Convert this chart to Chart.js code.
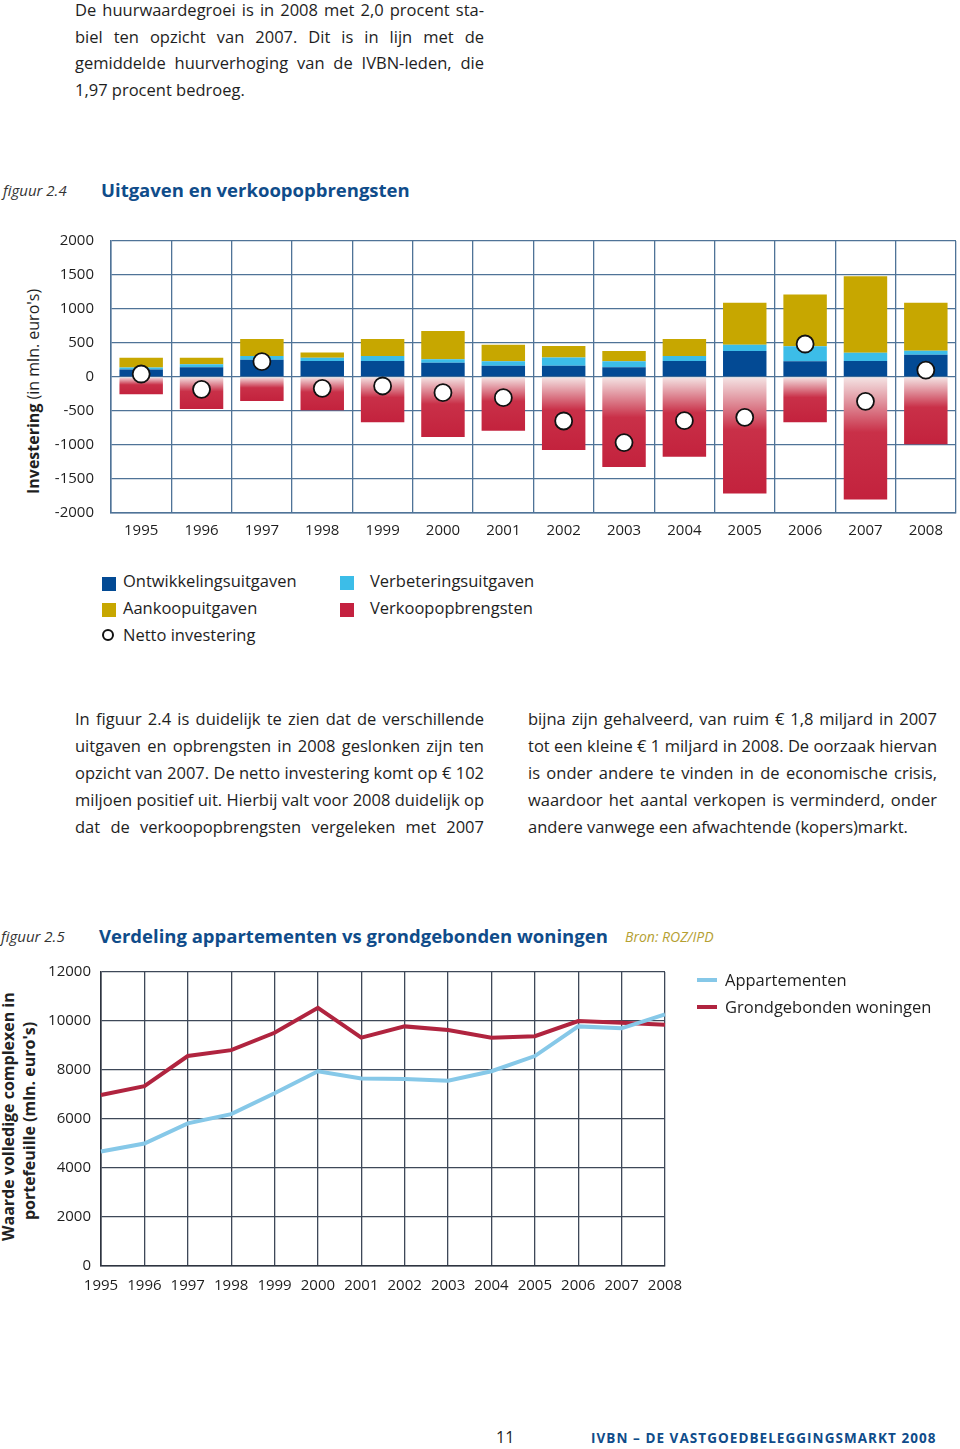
<!DOCTYPE html>
<html>
<head>
<meta charset="utf-8">
<script src="https://cdn.jsdelivr.net/npm/chart.js@4/dist/chart.umd.min.js"></script>
<style>
  body { margin: 0; width: 960px; height: 1449px; overflow: hidden; background: #fff;
         font-family: "Open Sans", sans-serif; color: #1e1e1e; position: relative; }
  .abs { position: absolute; }
  .line { position: absolute; width: 409px; font-size: 16.5px; line-height: 27px; height: 27px;
          text-align: justify; text-align-last: justify; white-space: nowrap; }
  .line.last { text-align-last: left; }
  .fig { font-style: italic; font-size: 15px; color: #333; }
  .title { font-weight: bold; color: #0f4c8a; font-size: 18.5px; }
  .leg { position: absolute; font-size: 16.5px; line-height: 20px; }
  .sq { position: absolute; width: 14px; height: 14px; }
  .rot { position: absolute; transform: rotate(-90deg); text-align: center; white-space: nowrap; }
</style>
</head>
<body>
<div class="line" style="left:75px;top:-4px">De huurwaardegroei is in 2008 met 2,0 procent sta-</div>
<div class="line" style="left:75px;top:23px">biel ten opzicht van 2007. Dit is in lijn met de</div>
<div class="line" style="left:75px;top:49px">gemiddelde huurverhoging van de IVBN-leden, die</div>
<div class="line last" style="left:75px;top:76px">1,97 procent bedroeg.</div>

<div class="abs fig" style="left:3px;top:180px">figuur 2.4</div>
<div class="abs title" style="left:101px;top:177px">Uitgaven en verkoopopbrengsten</div>

<div class="rot" style="left:-67px;top:383px;width:200px;height:22px;font-size:16px;line-height:22px">
  <b>Investering</b> (in mln. euro's)</div>

<div class="abs" style="left:0;top:225px;width:960px;height:325px"><canvas id="c1"></canvas></div>

<div class="sq" style="left:102px;top:577px;background:#034a94"></div>
<div class="leg" style="left:123px;top:571px">Ontwikkelingsuitgaven</div>
<div class="sq" style="left:102px;top:603px;background:#c7a700"></div>
<div class="leg" style="left:123px;top:598px">Aankoopuitgaven</div>
<div class="abs" style="left:102px;top:629px;width:8px;height:8px;border:2px solid #111;border-radius:50%"></div>
<div class="leg" style="left:123px;top:625px">Netto investering</div>
<div class="sq" style="left:340px;top:576px;background:#3cbde8"></div>
<div class="leg" style="left:370px;top:571px">Verbeteringsuitgaven</div>
<div class="sq" style="left:340px;top:603px;background:#c4213f"></div>
<div class="leg" style="left:370px;top:598px">Verkoopopbrengsten</div>

<div class="line" style="left:75px;top:705px">In figuur 2.4 is duidelijk te zien dat de verschillende</div>
<div class="line" style="left:75px;top:732px">uitgaven en opbrengsten in 2008 geslonken zijn ten</div>
<div class="line" style="left:75px;top:759px">opzicht van 2007. De netto investering komt op € 102</div>
<div class="line" style="left:75px;top:786px">miljoen positief uit. Hierbij valt voor 2008 duidelijk op</div>
<div class="line" style="left:75px;top:813px">dat de verkoopopbrengsten vergeleken met 2007</div>
<div class="line" style="left:528px;top:705px">bijna zijn gehalveerd, van ruim € 1,8 miljard in 2007</div>
<div class="line" style="left:528px;top:732px">tot een kleine € 1 miljard in 2008. De oorzaak hiervan</div>
<div class="line" style="left:528px;top:759px">is onder andere te vinden in de economische crisis,</div>
<div class="line" style="left:528px;top:786px">waardoor het aantal verkopen is verminderd, onder</div>
<div class="line last" style="left:528px;top:813px">andere vanwege een afwachtende (kopers)markt.</div>

<div class="abs fig" style="left:1px;top:926px">figuur 2.5</div>
<div class="abs title" style="left:99px;top:923px">Verdeling appartementen vs grondgebonden woningen</div>
<div class="abs" style="left:625px;top:927px;font-style:italic;font-size:14px;color:#b5a032">Bron: ROZ/IPD</div>

<div class="rot" style="left:-100px;top:1099px;width:240px;height:44px;font-size:16px;line-height:21px;font-weight:bold;color:#222">
  Waarde volledige complexen in<br>portefeuille (mln. euro's)</div>

<div class="abs" style="left:0;top:955px;width:960px;height:345px"><canvas id="c2"></canvas></div>

<div class="abs" style="left:697px;top:978px;width:20px;height:4px;background:#86c8e8"></div>
<div class="leg" style="left:725px;top:970px">Appartementen</div>
<div class="abs" style="left:697px;top:1005px;width:20px;height:4px;background:#b0243f"></div>
<div class="leg" style="left:725px;top:997px">Grondgebonden woningen</div>

<div class="abs" style="left:496px;top:1426px;font-size:16px;color:#222">11</div>
<div class="abs" style="left:591px;top:1429px;font-size:13.5px;font-weight:bold;color:#0f4c8a;letter-spacing:1.05px">IVBN – DE VASTGOEDBELEGGINGSMARKT 2008</div>

<script>
const years = ['1995', '1996', '1997', '1998', '1999', '2000', '2001', '2002', '2003', '2004', '2005', '2006', '2007', '2008'];

// figuur 2.4 (mln. euro)
const ontwikkeling = [110, 142, 255, 235, 235, 211, 167, 167, 142, 235, 382, 230, 235, 328];
const verbetering = [30, 44, 54, 49, 74, 49, 64, 118, 88, 74, 93, 221, 123, 59];
const aankoop = [142, 98, 250, 78, 250, 417, 245, 172, 152, 250, 617, 764, 1122, 706];
const verkoop = [-255, -470, -353, -490, -666, -882, -789, -1073, -1323, -1171, -1715, -666, -1803, -990];
const netto = [44, -181, 225, -167, -132, -230, -304, -647, -965, -642, -593, 485, -358, 102];

// figuur 2.5 (mln. euro)
const appartementen = [4670, 5000, 5820, 6200, 7050, 7950, 7650, 7630, 7560, 7950, 8570, 9780, 9700, 10270];
const grondgebonden = [6980, 7340, 8570, 8810, 9520, 10540, 9320, 9780, 9630, 9320, 9380, 10000, 9930, 9850];

const tickFont = { family: "Open Sans", size: 15 };

// red bars fade from pale pink at zero to full red
function verkoopFill(ctx) {
  const chart = ctx.chart;
  const y = chart.scales.y;
  if (!y || typeof ctx.raw !== 'number') return '#c4213f';
  const top = y.getPixelForValue(0);
  const bot = y.getPixelForValue(ctx.raw);
  if (!isFinite(top) || !isFinite(bot) || top === bot) return '#c4213f';
  const g = chart.ctx.createLinearGradient(0, top, 0, bot);
  g.addColorStop(0, '#f4e4e4');
  g.addColorStop(0.45, '#c93048');
  g.addColorStop(1, '#c3223d');
  return g;
}

new Chart(document.getElementById('c1'), {
  type: 'bar',
  data: {
    labels: years,
    datasets: [
      { type: 'line', label: 'Netto investering', data: netto, stack: 'net', showLine: false,
        pointRadius: 8.5, pointBackgroundColor: '#fff', pointBorderColor: '#111', pointBorderWidth: 1.8, order: 0 },
      { label: 'Ontwikkelingsuitgaven', data: ontwikkeling, backgroundColor: '#034a94', stack: 'a', order: 1 },
      { label: 'Verbeteringsuitgaven', data: verbetering, backgroundColor: '#3cbde8', stack: 'a', order: 1 },
      { label: 'Aankoopuitgaven', data: aankoop, backgroundColor: '#c7a700', stack: 'a', order: 1 },
      { label: 'Verkoopopbrengsten', data: verkoop, backgroundColor: verkoopFill, stack: 'a', order: 1 },
    ],
  },
  options: {
    responsive: true,
    maintainAspectRatio: false,
    animation: false,
    layout: { autoPadding: false, padding: { top: 16, right: 4, left: 0, bottom: 0 } },
    datasets: { bar: { barPercentage: 0.72, categoryPercentage: 1 } },
    plugins: { legend: { display: false }, tooltip: { enabled: false } },
    scales: {
      x: {
        stacked: true,
        grid: { color: '#4f7397', lineWidth: 1.3, drawTicks: false, offset: true },
        border: { color: '#4f7397', width: 1.5 },
        ticks: { font: tickFont, color: '#1e1e1e', padding: 9, maxRotation: 0, autoSkip: false },
        afterFit: (s) => { s.height = 37; },
      },
      y: {
        stacked: true,
        min: -2000,
        max: 2000,
        grid: { color: '#4f7397', lineWidth: 1.3, drawTicks: false },
        border: { color: '#4f7397', width: 1.5 },
        ticks: { stepSize: 500, font: tickFont, color: '#1e1e1e', padding: 17, callback: (v) => String(v) },
        afterFit: (s) => { s.width = 111; s.paddingTop = 8; s.paddingBottom = 8; },
      },
    },
  },
});

new Chart(document.getElementById('c2'), {
  type: 'line',
  data: {
    labels: years,
    datasets: [
      { label: 'Appartementen', data: appartementen, borderColor: '#86c8e8', borderWidth: 4, pointRadius: 0, tension: 0 },
      { label: 'Grondgebonden woningen', data: grondgebonden, borderColor: '#b0243f', borderWidth: 4, pointRadius: 0, tension: 0 },
    ],
  },
  options: {
    responsive: true,
    maintainAspectRatio: false,
    animation: false,
    layout: { padding: { top: 17, right: 295, left: 0, bottom: 0 } },
    plugins: { legend: { display: false }, tooltip: { enabled: false } },
    scales: {
      x: {
        offset: false,
        grid: { color: '#3e4858', lineWidth: 1.3, drawTicks: false },
        border: { color: '#2e3440', width: 1.6 },
        ticks: { font: tickFont, color: '#1e1e1e', padding: 11, maxRotation: 0, autoSkip: false },
        afterFit: (s) => { s.height = 34; },
      },
      y: {
        min: 0,
        max: 12000,
        grid: { color: '#3e4858', lineWidth: 1.3, drawTicks: false },
        border: { color: '#2e3440', width: 1.6 },
        ticks: { stepSize: 2000, font: tickFont, color: '#1e1e1e', padding: 10, callback: (v) => String(v) },
        afterFit: (s) => { s.width = 101; s.paddingTop = 8; s.paddingBottom = 8; },
      },
    },
  },
});
</script>
</body>
</html>
